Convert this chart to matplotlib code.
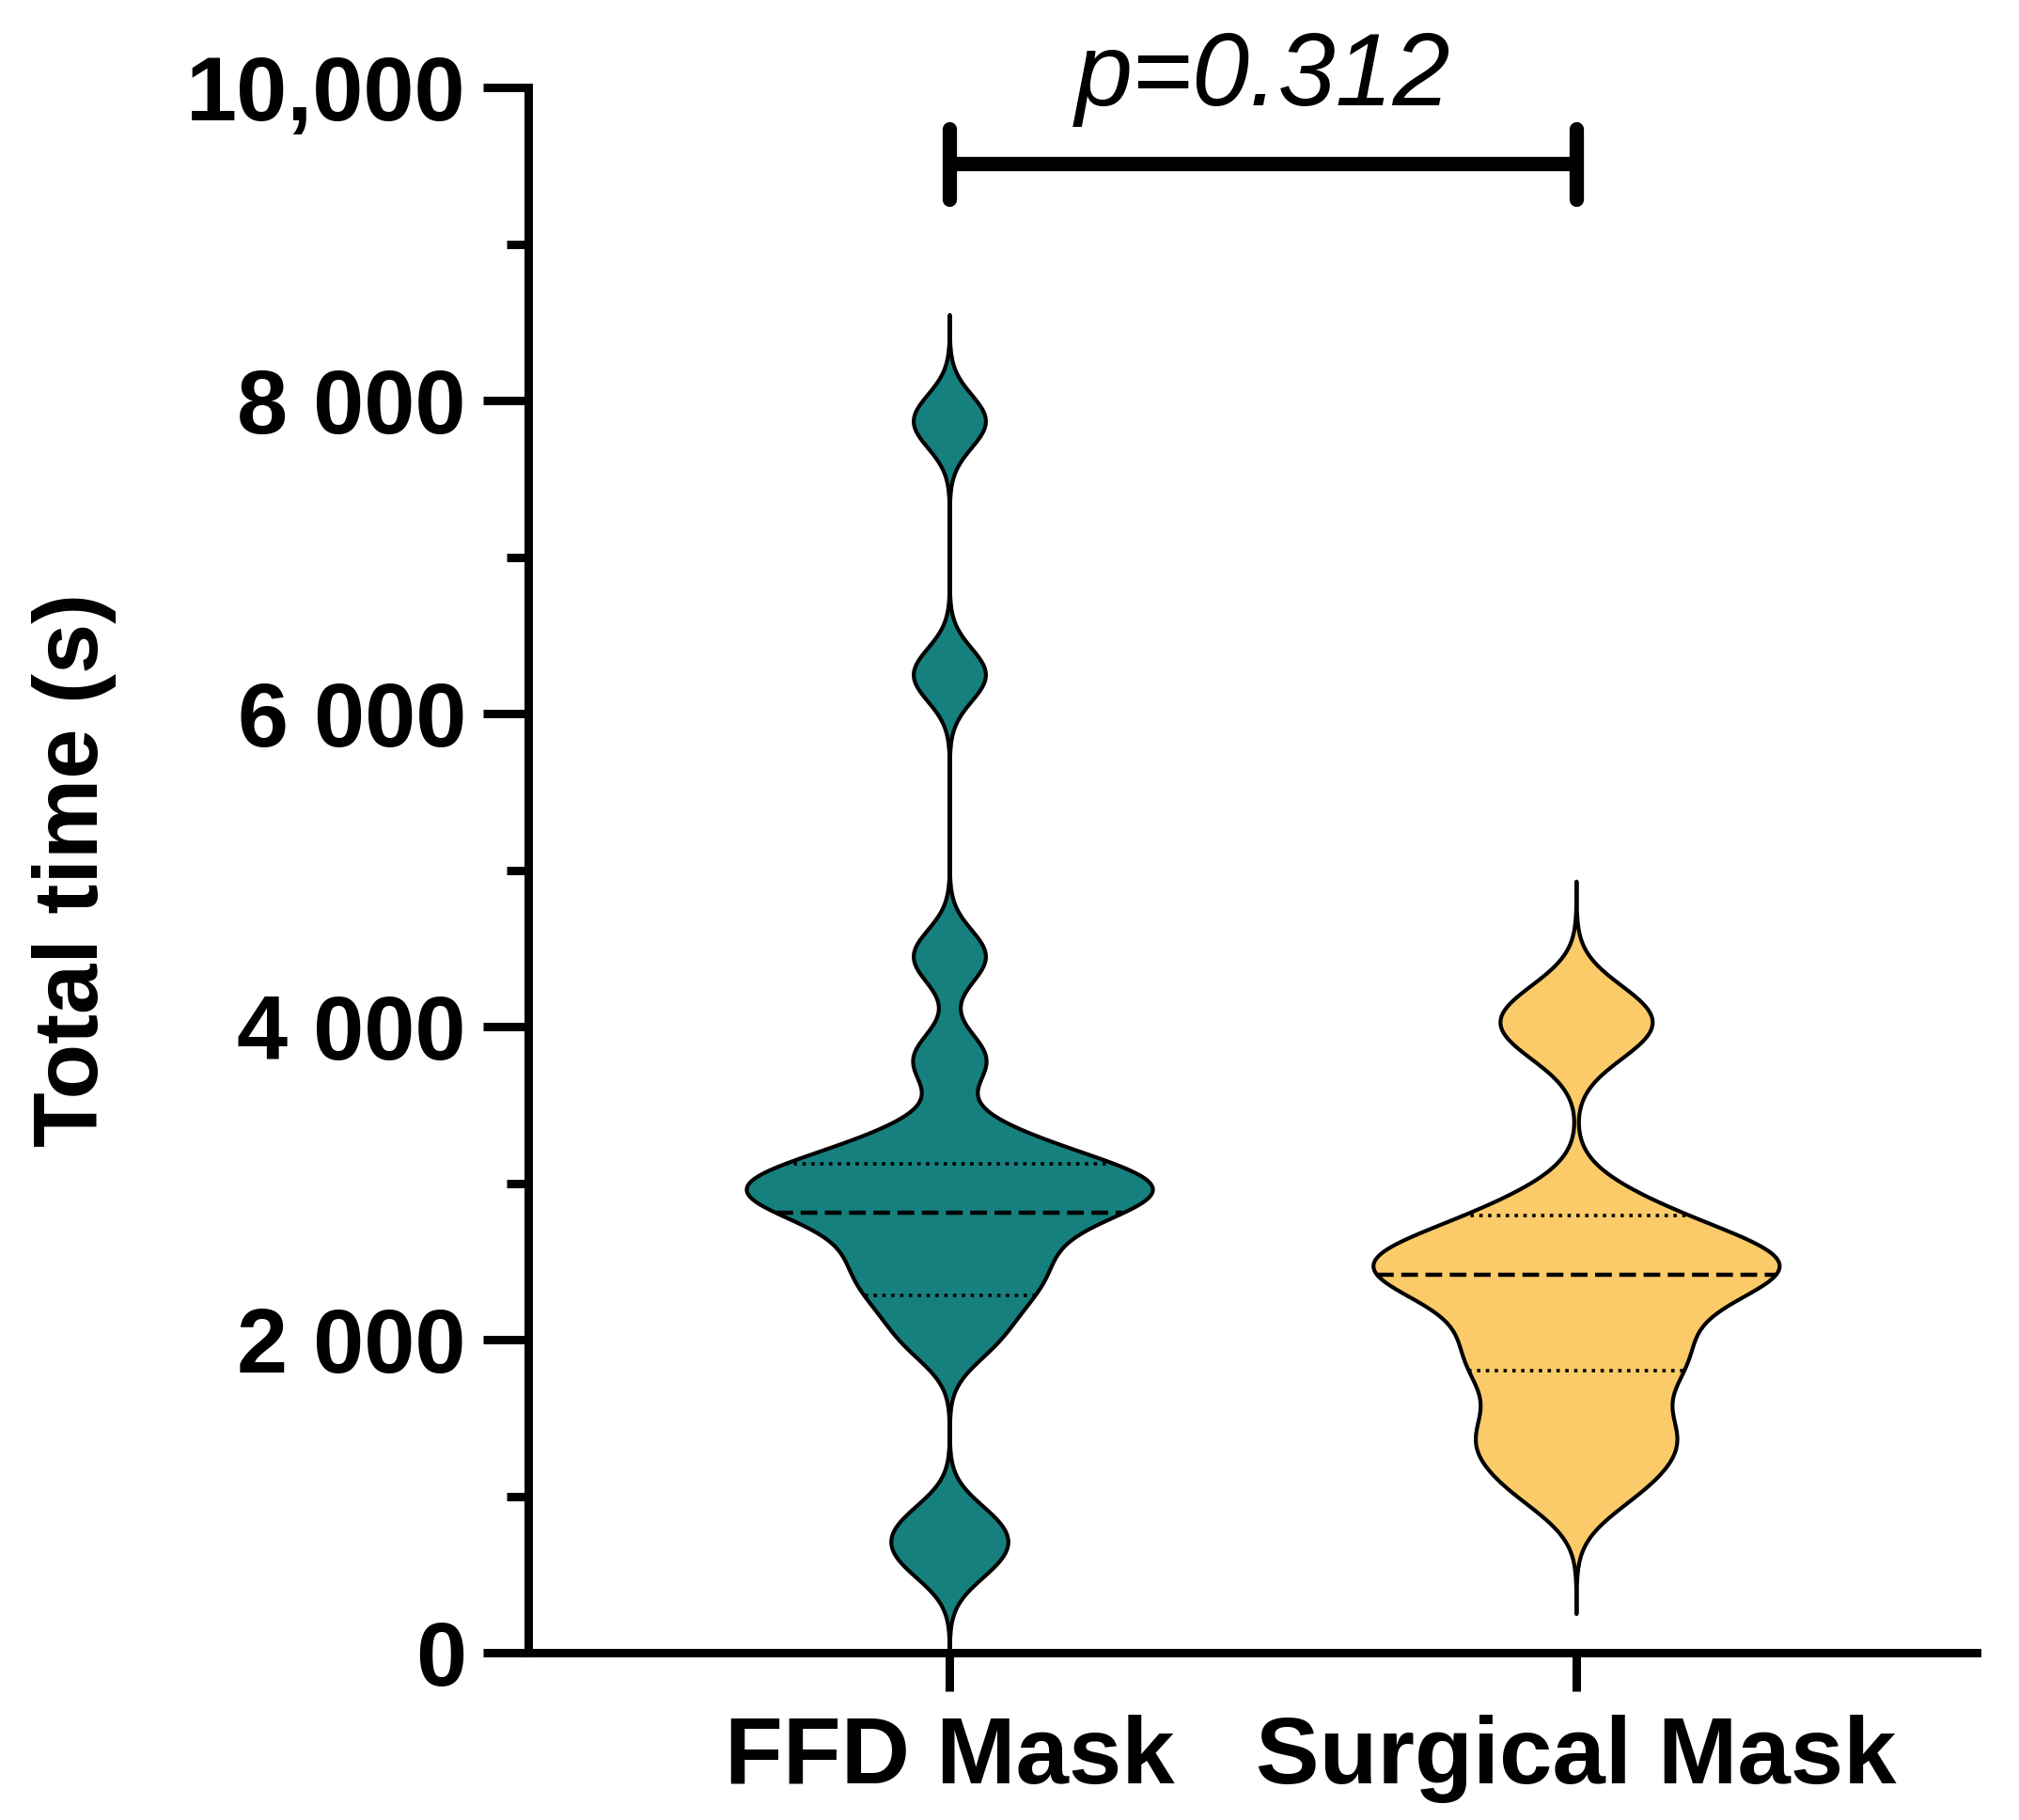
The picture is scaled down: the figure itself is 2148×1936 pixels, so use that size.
import numpy as np
import matplotlib.pyplot as plt

groups = ['FFD Mask', 'Surgical Mask']

# single observations (s), estimated from the violin shapes
ffd_times = [600, 820, 2000, 2250, 2400, 2550, 2700, 2850, 2900, 2950,
             3000, 3050, 3150, 3300, 3790, 4450, 6250, 7870]
surgical_times = [1050, 1300, 1450, 1750, 1900, 2100, 2300, 2450, 2480,
                  2500, 2650, 2850, 3930, 4130]

# quartile lines: Q1, median, Q3
ffd_quart = [2280, 2810, 3125]
surgical_quart = [1805, 2415, 2793]

colors = ['#16807e', '#fbcb69']
bandwidth = [170, 200]

yticks = [0, 2000, 4000, 6000, 8000, 10000]
ytick_labels = ['0', '2 000', '4 000', '6 000', '8 000', '10,000']
yminor = [1000, 3000, 5000, 7000, 9000]
p_text = 'p=0.312'

plt.rcParams['font.family'] = ['Liberation Sans', 'DejaVu Sans']

fig = plt.figure(figsize=(21.48, 19.36), dpi=100)
ax = fig.add_axes([0.2616, 0.0919, 0.7174, 0.8600])

half_w = 0.324
data = [ffd_times, surgical_times]
quarts = [ffd_quart, surgical_quart]
styles = [(0, (1, 1.6)), (0, (4, 1.8)), (0, (1, 1.6))]

for i in range(2):
    vals = np.asarray(data[i], float)
    h = bandwidth[i]
    y = np.linspace(max(0, vals.min() - 4 * h), vals.max() + 4 * h, 1200)
    dens = np.exp(-(y[:, None] - vals[None, :]) ** 2 / (2 * h * h)).sum(axis=1)
    w = dens / dens.max() * half_w
    ax.fill_betweenx(y, i - w, i + w, facecolor=colors[i], edgecolor='black',
                     linewidth=3.0, zorder=2)
    # quartile / median lines
    for k, (qv, ls) in enumerate(zip(quarts[i], styles)):
        wq = np.interp(qv, y, w)
        lw = 3.2 if k == 1 else 2.6
        ax.plot([i - wq, i + wq], [qv, qv], color='black', lw=lw,
                linestyle=ls, zorder=3)

ax.set_xlim(-0.672, 1.639)
ax.set_ylim(0, 10000)
ax.set_yticks(yticks, ytick_labels)
ax.set_yticks(yminor, minor=True)
ax.set_xticks([0, 1], groups)

for s in ['top', 'right']:
    ax.spines[s].set_visible(False)
for s in ['left', 'bottom']:
    ax.spines[s].set_linewidth(6.5)

ax.tick_params(axis='y', which='major', length=34.5, width=6.5, pad=13, labelsize=70)
ax.tick_params(axis='y', which='minor', length=16.5, width=6.5)
ax.tick_params(axis='x', length=29.5, width=6.5, pad=18, labelsize=73)
for lab in ax.get_xticklabels() + ax.get_yticklabels():
    lab.set_fontweight('bold')

ax.set_ylabel('Total time (s)', fontsize=69, fontweight='bold')
ax.yaxis.set_label_coords(-0.284, 0.5)

# significance bracket
ax.plot([0, 1], [9514, 9514], color='black', lw=11, solid_capstyle='butt',
        clip_on=False, zorder=4)
for xb in [0, 1]:
    ax.plot([xb, xb], [9285, 9736], color='black', lw=11,
            solid_capstyle='round', clip_on=False, zorder=4)
ax.text(0.5, 9886, p_text, ha='center', va='baseline', fontsize=79,
        style='italic')

fig.savefig('out.png', dpi=100)
